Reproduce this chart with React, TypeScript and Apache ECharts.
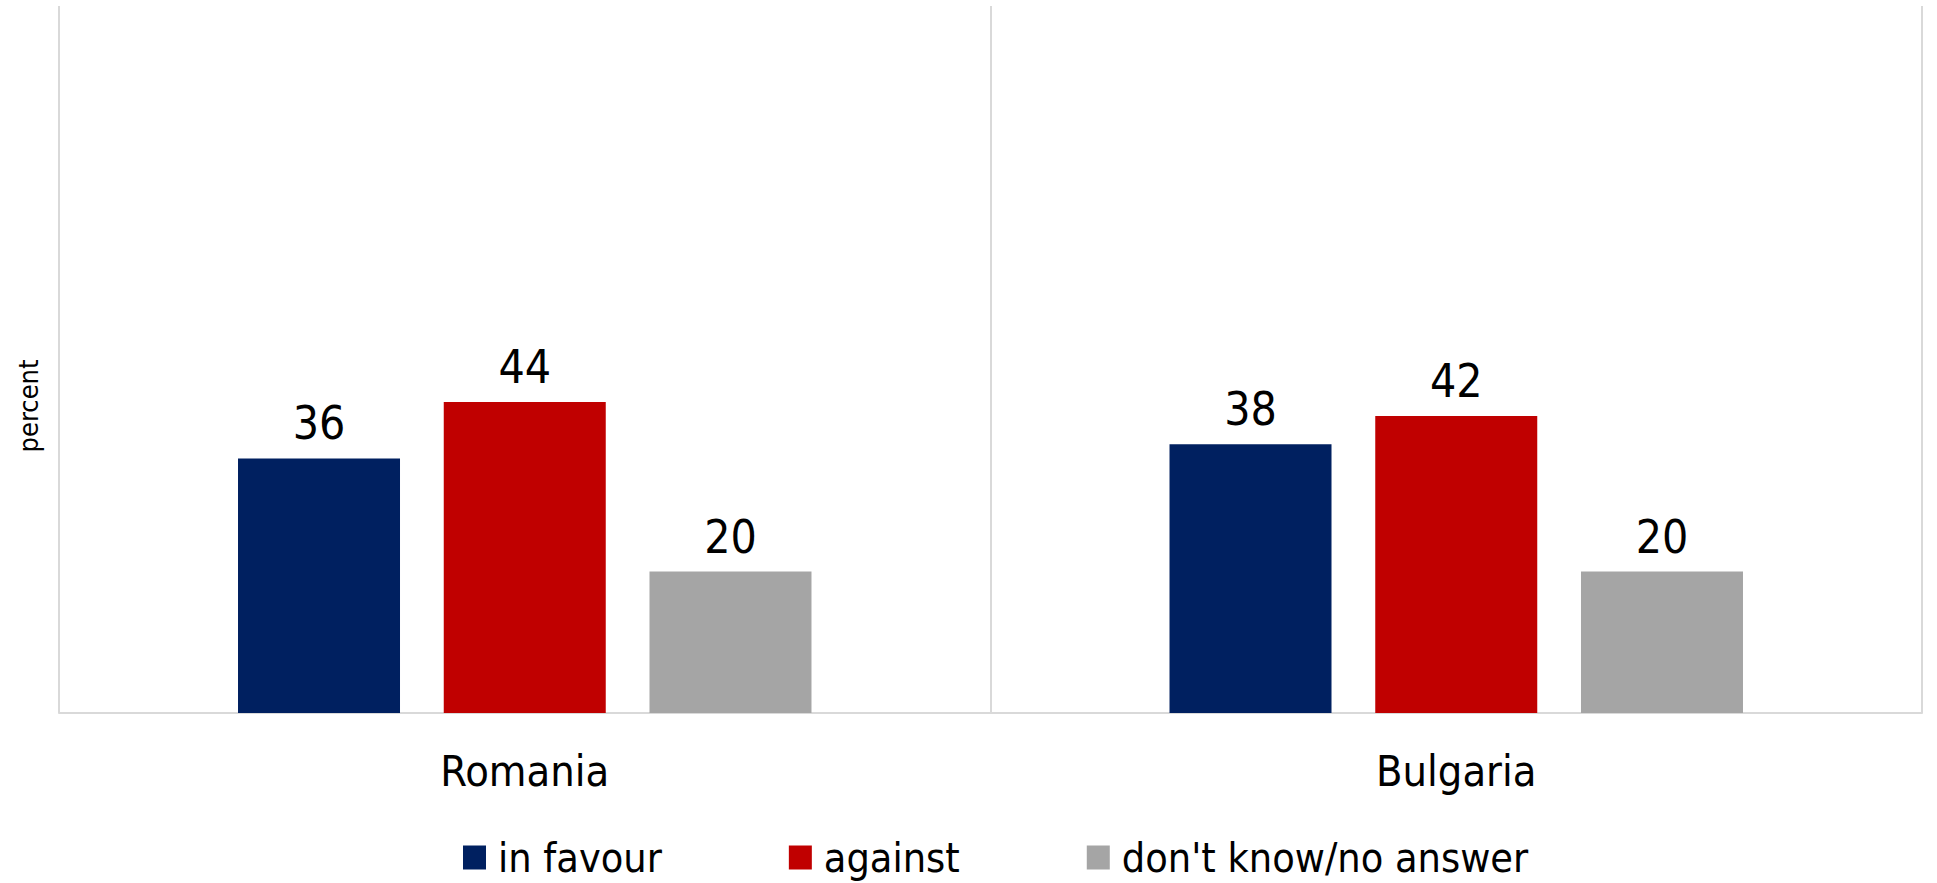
import React, { useEffect, useRef } from "react";
import * as echarts from "echarts";

const categories = ["Romania", "Bulgaria"];
const seriesNames = ["in favour", "against", "don't know/no answer"];
const inFavour = [36, 38];
const against = [44, 42];
const dontKnow = [20, 20];
const colors = ["#002060", "#C00000", "#A5A5A5"];
const axisTitle = "percent";

const FONT = "DejaVu Sans Condensed";

export default function App() {
  const ref = useRef<HTMLDivElement>(null);
  useEffect(() => {
    if (!ref.current) return;
    const chart = echarts.init(ref.current, undefined, { renderer: "svg" });
    const values = [inFavour, against, dontKnow];
    chart.setOption({
      animation: false,
      textStyle: { fontFamily: FONT },
      grid: { left: 59, right: 15, top: 6, bottom: 170 },
      legend: {
        data: seriesNames,
        left: 458,
        top: 832,
        itemWidth: 23,
        itemHeight: 24,
        itemGap: 127,
        icon: "rect",
        textStyle: { fontFamily: FONT, fontSize: 41, color: "#000", padding: [0, 0, 0, 7] },
      },
      graphic: [
        {
          type: "text",
          x: 28,
          y: 406,
          rotation: Math.PI / 2,
          style: {
            text: axisTitle,
            fontFamily: FONT,
            fontSize: 27,
            fill: "#000",
            align: "center",
            verticalAlign: "middle",
          },
        },
      ],
      xAxis: {
        type: "category",
        data: categories,
        axisLine: { show: true, lineStyle: { color: "#D9D9D9", width: 2 } },
        axisTick: { show: false },
        splitLine: { show: true, lineStyle: { color: "#D9D9D9", width: 2 } },
        axisLabel: { fontFamily: FONT, fontSize: 43, color: "#000", margin: 36 },
      },
      yAxis: {
        type: "value",
        min: 0,
        max: 100,
        show: false,
      },
      series: seriesNames.map((name, i) => ({
        name,
        type: "bar",
        data: values[i],
        barWidth: 162,
        barGap: "27%",
        itemStyle: { color: colors[i] },
        label: {
          show: true,
          position: "top",
          distance: 12,
          fontFamily: FONT,
          fontSize: 46,
          color: "#000",
        },
      })),
    });
    return () => chart.dispose();
  }, []);
  return (
    <div
      ref={ref}
      style={{ position: "absolute", left: 0, top: 0, width: 1937, height: 883, background: "#fff" }}
    />
  );
}
